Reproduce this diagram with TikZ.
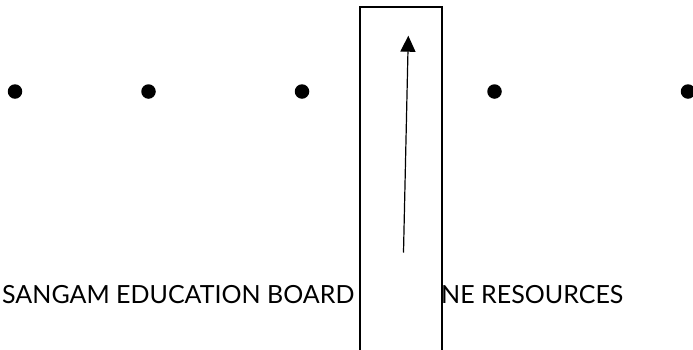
\documentclass[tikz,border=0pt]{standalone}
\usepackage{fontspec}
\setmainfont{Lato}
\usetikzlibrary{arrows.meta}
\tikzset{
  dotnode/.style={circle,fill=black,inner sep=0pt,minimum size=14.5pt},
  label/.style={inner sep=0pt,anchor=base west,font=\fontsize{25}{25}\selectfont},
  frame/.style={draw=black,line width=1.5pt,fill=white},
  arr/.style={line width=1.2pt,-{Triangle[length=16pt,width=15pt]}}
}
\begin{document}
\begin{tikzpicture}[x=1pt,y=-1pt]
\useasboundingbox (0,0) rectangle (693,349);
\node[dotnode] (d1) at (15,91.5) {};
\node[dotnode] (d2) at (148.5,91.5) {};
\node[dotnode] (d3) at (302,91.5) {};
\node[dotnode] (d4) at (494.5,91.5) {};
\node[dotnode] (d5) at (688,91.5) {};
\node[label] (t1) at (2,303) {SANGAM EDUCATION BOARD};
\node[label] (t2) at (441,303) {NE RESOURCES};
\path[frame] (360,360) -- (360,7) -- (442,7) -- (442,360);
\coordinate (a0) at (403.5,252.5);
\coordinate (a1) at (408.3,35.7);
\draw[arr] (a0) -- (a1);
\end{tikzpicture}
\end{document}
